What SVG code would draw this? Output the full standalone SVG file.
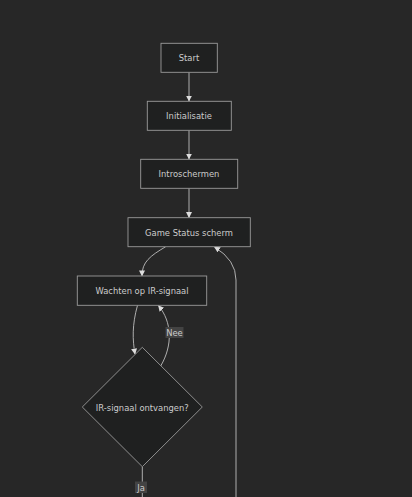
<svg xmlns="http://www.w3.org/2000/svg" width="412" height="497" viewBox="0 0 412 497">
<style>
.node rect,.node polygon{fill:#1f2020;stroke:#9a9a9a;stroke-width:0.9}
.node text{font-family:"DejaVu Sans",sans-serif;font-size:8.4px;fill:#cccccc;text-anchor:middle;dominant-baseline:central}
.edges path{fill:none;stroke:#bdbdbd;stroke-width:0.9}
.lbl rect{fill:#434343}
.lbl text{font-family:"DejaVu Sans",sans-serif;font-size:8.4px;fill:#cccccc;text-anchor:middle;dominant-baseline:central}
</style>
<defs>
<marker id="arr" markerUnits="userSpaceOnUse" markerWidth="6" markerHeight="6" viewBox="0 0 10 10" refX="9" refY="5" orient="auto">
<path d="M0,0 L10,5 L0,10 z" fill="#dddddd"/>
</marker>
</defs>
<rect width="412" height="497" fill="#272727"/>
<g class="edges">
<path d="M189,72.3 L189,101" marker-end="url(#arr)"/>
<path d="M189,130.3 L189,159" marker-end="url(#arr)"/>
<path d="M189,188.3 L189,217.5" marker-end="url(#arr)"/>
<path d="M165.7,246.7 C150,256 142,262 142,275.8" marker-end="url(#arr)"/>
<path d="M137.5,305.3 C132,325 132.5,340 135,354" marker-end="url(#arr)"/>
<path d="M160.7,366 C173,345 172,322 158.5,305.6" marker-end="url(#arr)"/>
<path d="M142.3,466.7 L142.3,497"/>
<path d="M236,497 L236,280 Q236,260 214.5,247" marker-end="url(#arr)"/>
</g>
<g class="lbl" id="label-nee">
<rect x="165.5" y="327" width="18" height="11"/>
<text x="174.5" y="332.5">Nee</text>
</g>
<g class="lbl" id="label-ja">
<rect x="135" y="481.5" width="12" height="11.5"/>
<text x="141" y="487.5">Ja</text>
</g>
<g class="node" id="start">
<rect x="161" y="43.3" width="56.3" height="29"/>
<text x="189" y="58">Start</text>
</g>
<g class="node" id="init">
<rect x="147.3" y="101.3" width="84" height="29"/>
<text x="189" y="116">Initialisatie</text>
</g>
<g class="node" id="intro">
<rect x="140.7" y="159.3" width="97" height="29"/>
<text x="189" y="174">Introschermen</text>
</g>
<g class="node" id="game">
<rect x="128" y="217.7" width="122.3" height="29"/>
<text x="189" y="232.5">Game Status scherm</text>
</g>
<g class="node" id="wachten">
<rect x="77.3" y="276" width="129.4" height="29.3"/>
<text x="142" y="291">Wachten op IR-signaal</text>
</g>
<g class="node" id="ontvangen">
<polygon points="142.3,347.3 202.3,407 142.3,466.7 82.3,407"/>
<text x="142.3" y="407.5">IR-signaal ontvangen?</text>
</g>
</svg>
